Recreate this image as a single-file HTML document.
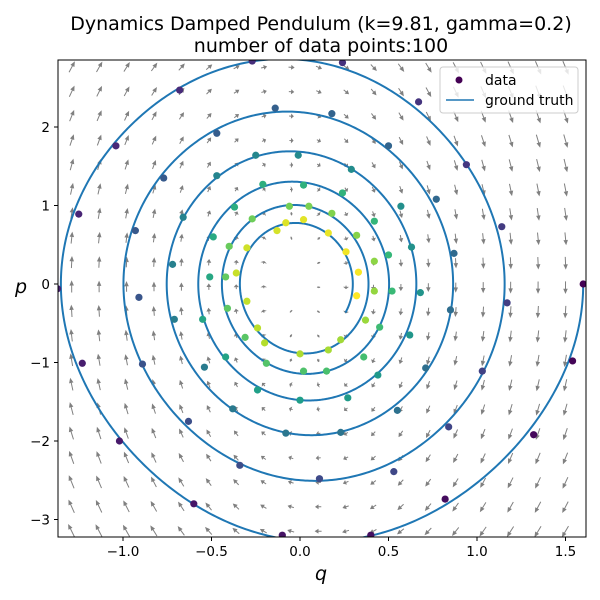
<!DOCTYPE html>
<html><head><meta charset="utf-8"><style>
body{margin:0;background:#fff;}
svg{display:block;font-family:"DejaVu Sans","Liberation Sans",sans-serif;}
</style></head><body>
<svg id="chart" width="600" height="600" viewBox="0 0 600 600" xmlns="http://www.w3.org/2000/svg">
<defs><clipPath id="plotclip"><rect x="58" y="60" width="528" height="477"/></clipPath></defs>
<rect width="600" height="600" fill="#fff"/>
<text x="321" y="30" text-anchor="middle" font-size="19">Dynamics Damped Pendulum (k=9.81, gamma=0.2)</text>
<text x="321" y="52" text-anchor="middle" font-size="19">number of data points:100</text>
<g id="quiver" clip-path="url(#plotclip)"></g>
<g id="gt" clip-path="url(#plotclip)"></g>
<g id="pts" clip-path="url(#plotclip)"></g>
<rect x="58" y="60" width="528" height="477" fill="none" stroke="#000" stroke-width="1"/>
<g id="xt"></g>
<g id="yt"></g>
<text x="321" y="580" text-anchor="middle" font-size="19" font-style="italic">q</text>
<text x="21" y="293" text-anchor="middle" font-size="19" font-style="italic">p</text>
<g>
<rect x="440" y="67" width="138" height="46" rx="3" fill="#fff" fill-opacity="0.8" stroke="#ccc"/>
<circle cx="459" cy="80" r="3.5" fill="#440154"/>
<text x="485" y="85" font-size="14">data</text>
<line x1="446" y1="100" x2="474" y2="100" stroke="#1f77b4" stroke-width="1.5"/>
<text x="485" y="105" font-size="14">ground truth</text>
</g>
</svg>
<script>
const K = 6.0;
const GAMMA = 0.2;
const Q0 = 1.6;
const T_END = 16.35;
const qVals = [1.60,1.54,1.32,0.82,0.40,-0.10,-0.60,-1.02,-1.23,-1.37,-1.25,-1.04,-0.68,-0.27,0.24,0.67,0.94,1.14,1.17,1.03,0.84,0.53,0.11,-0.34,-0.63,-0.89,-0.91,-0.93,-0.77,-0.47,-0.14,0.18,0.50,0.77,0.87,0.85,0.71,0.55,0.23,-0.08,-0.38,-0.54,-0.71,-0.72,-0.66,-0.47,-0.25,-0.01,0.29,0.57,0.63,0.68,0.62,0.44,0.27,0.00,-0.24,-0.42,-0.55,-0.51,-0.49,-0.37,-0.21,0.02,0.24,0.42,0.50,0.52,0.45,0.36,0.15,0.02,-0.19,-0.31,-0.41,-0.42,-0.40,-0.27,-0.06,0.05,0.18,0.32,0.42,0.42,0.37,0.23,0.16,0.00,-0.20,-0.24,-0.30,-0.36,-0.30,-0.13,-0.08,0.02,0.16,0.26,0.33,0.32];
const pVals = [0.00,-0.98,-1.92,-2.74,-3.20,-3.20,-2.80,-2.00,-1.01,-0.06,0.89,1.76,2.47,2.84,2.82,2.32,1.52,0.73,-0.24,-1.11,-1.82,-2.39,-2.48,-2.31,-1.75,-1.02,-0.17,0.68,1.35,1.92,2.24,2.17,1.76,1.08,0.39,-0.33,-1.07,-1.61,-1.89,-1.90,-1.59,-1.06,-0.45,0.25,0.85,1.38,1.64,1.64,1.46,0.99,0.47,-0.11,-0.65,-1.16,-1.45,-1.48,-1.35,-0.93,-0.45,0.09,0.60,0.98,1.27,1.26,1.16,0.80,0.37,-0.09,-0.55,-0.93,-1.11,-1.11,-1.01,-0.68,-0.31,0.09,0.48,0.83,0.99,0.99,0.90,0.62,0.29,-0.09,-0.46,-0.71,-0.84,-0.89,-0.75,-0.56,-0.22,0.14,0.46,0.68,0.78,0.82,0.65,0.41,0.15,-0.15];
const xTicks = [-1.0,-0.5,0.0,0.5,1.0,1.5];
const xTickLabels = ["\u22121.0","\u22120.5","0.0","0.5","1.0","1.5"];
const yTicks = [-3,-2,-1,0,1,2];
const yTickLabels = ["\u22123","\u22122","\u22121","0","1","2"];

const NS="http://www.w3.org/2000/svg";
const sx = q => 300 + q*177;
const sy = p => 284 - p*78.5;
function mk(tag, attrs, parent){const e=document.createElementNS(NS,tag);for(const k in attrs)e.setAttribute(k,attrs[k]);parent.appendChild(e);return e;}
const viridis=[[68,1,84],[72,40,120],[62,74,137],[49,104,142],[38,130,142],[31,158,137],[53,183,121],[109,205,89],[180,222,44],[253,231,37]];
function vcol(t){const s=t*(viridis.length-1);const i=Math.min(Math.floor(s),viridis.length-2);const f=s-i;const a=viridis[i],b=viridis[i+1];return `rgb(${[0,1,2].map(j=>Math.round(a[j]+(b[j]-a[j])*f)).join(',')})`;}

const qv=document.getElementById('quiver');
for(let i=0;i<20;i++){for(let j=0;j<20;j++){
  const q=-1.29+i*0.155, p=2.76-j*0.311;
  const u=p, v=-K*Math.sin(q)-GAMMA*p;
  const m=Math.hypot(u,v); const L=m*1.9; if(L<0.8) continue;
  const dx=u/m, dy=-v/m;
  const x0=sx(q)-dx*L/2, y0=sy(p)-dy*L/2, x1=sx(q)+dx*L/2, y1=sy(p)+dy*L/2;
  const hl=Math.min(3.5,L*0.4), nx=-dy, ny=dx;
  const a=mk('path',{d:`M${x0},${y0}L${x1-dx*hl},${y1-dy*hl}M${x1},${y1}L${x1-dx*hl+nx*1.5},${y1-dy*hl+ny*1.5}L${x1-dx*hl-nx*1.5},${y1-dy*hl-ny*1.5}Z`,stroke:'#808080','stroke-width':1,fill:'#808080'},qv);
  
  
}}

let q=Q0,p=0,dt=0.005,d=`M${sx(q)},${sy(p)}`;
const f=(q,p)=>[p,-K*Math.sin(q)-GAMMA*p];
for(let t=0;t<T_END;t+=dt){
  const k1=f(q,p),k2=f(q+dt/2*k1[0],p+dt/2*k1[1]),k3=f(q+dt/2*k2[0],p+dt/2*k2[1]),k4=f(q+dt*k3[0],p+dt*k3[1]);
  q+=dt/6*(k1[0]+2*k2[0]+2*k3[0]+k4[0]);p+=dt/6*(k1[1]+2*k2[1]+2*k3[1]+k4[1]);
  d+=`L${sx(q).toFixed(2)},${sy(p).toFixed(2)}`;
}
const gl=mk('path',{d:d,fill:'none',stroke:'#1f77b4','stroke-width':2},document.getElementById('gt'));



const pg=document.getElementById('pts');
qVals.forEach((qq,i)=>{
  const c=mk('circle',{cx:sx(qq),cy:sy(pVals[i]),r:3.6,fill:vcol(i/(qVals.length-1))},pg);
  
  
});

const xt=document.getElementById('xt');
xTicks.forEach((v,i)=>{
  const l=mk('line',{x1:sx(v),x2:sx(v),y1:537,y2:541,stroke:'#000'},xt);
  
  
  const t=mk('text',{x:sx(v),y:556,'text-anchor':'middle','font-size':13.5},xt);
  t.textContent=xTickLabels[i];
  
  
});
const yt=document.getElementById('yt');
yTicks.forEach((v,i)=>{
  const l=mk('line',{x1:54,x2:58,y1:sy(v),y2:sy(v),stroke:'#000'},yt);
  
  
  const t=mk('text',{x:50,y:sy(v)+5,'text-anchor':'end','font-size':13.5},yt);
  t.textContent=yTickLabels[i];
  
  
});
</script>
</body></html>
